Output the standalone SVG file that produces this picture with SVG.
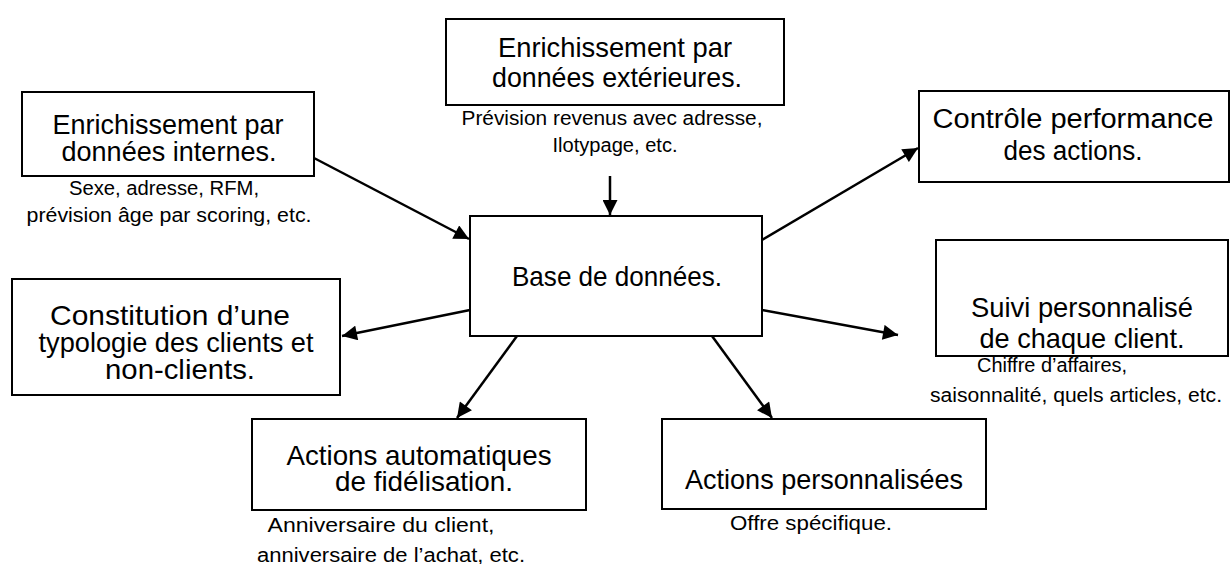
<svg xmlns="http://www.w3.org/2000/svg" width="1231" height="564" viewBox="0 0 1231 564">
<defs>
<style>
rect.box{fill:#fff;stroke:#000;stroke-width:2}
text{font-family:"Liberation Sans",Arial,sans-serif;fill:#000;text-anchor:middle}
.t{font-size:28px}
.k{font-size:27px}
.s{font-size:20px}
.c line{stroke:#000;stroke-width:2.5}
</style>
<marker id="ah" viewBox="0 0 10 10" refX="10" refY="5" markerWidth="6.4" markerHeight="6" markerUnits="strokeWidth" orient="auto">
<path d="M0,0 L10,5 L0,10 z" fill="#000"/>
</marker>
</defs>
<rect width="1231" height="564" fill="#fff"/>
<g class="c" id="connectors">
<line x1="314" y1="158" x2="469" y2="239" marker-end="url(#ah)"/>
<line x1="610" y1="176" x2="610" y2="215" marker-end="url(#ah)"/>
<line x1="762" y1="240" x2="918" y2="148" marker-end="url(#ah)"/>
<line x1="470" y1="310" x2="342" y2="336" marker-end="url(#ah)"/>
<line x1="762" y1="310" x2="898" y2="335" marker-end="url(#ah)"/>
<line x1="517" y1="336" x2="457" y2="418" marker-end="url(#ah)"/>
<line x1="712" y1="336" x2="772" y2="418" marker-end="url(#ah)"/>
</g>
<g id="n-internes">
<rect class="box" x="22" y="92" width="292" height="84"/>
<text class="t" x="168" y="134" textLength="231" lengthAdjust="spacingAndGlyphs">Enrichissement par</text>
<text class="t" x="169" y="161" textLength="215" lengthAdjust="spacingAndGlyphs">données internes.</text>
<text class="s" x="164" y="195" textLength="190" lengthAdjust="spacingAndGlyphs">Sexe, adresse, RFM,</text>
<text class="s" x="169" y="222" textLength="285" lengthAdjust="spacingAndGlyphs">prévision âge par scoring, etc.</text>
</g>
<g id="n-exterieures">
<rect class="box" x="446" y="19" width="338" height="86"/>
<text class="t" x="615" y="57" textLength="234" lengthAdjust="spacingAndGlyphs">Enrichissement par</text>
<text class="t" x="617" y="87" textLength="250" lengthAdjust="spacingAndGlyphs">données extérieures.</text>
<text class="s" x="612" y="125" textLength="301" lengthAdjust="spacingAndGlyphs">Prévision revenus avec adresse,</text>
<text class="s" x="615" y="152" textLength="125" lengthAdjust="spacingAndGlyphs">Ilotypage, etc.</text>
</g>
<g id="n-base">
<rect class="box" x="470" y="216" width="292" height="120"/>
<text class="t" x="617" y="286" textLength="210" lengthAdjust="spacingAndGlyphs">Base de données.</text>
</g>
<g id="n-controle">
<rect class="box" x="919" y="91" width="310" height="91"/>
<text class="k" x="1073" y="128" textLength="281" lengthAdjust="spacingAndGlyphs">Contrôle performance</text>
<text class="k" x="1073" y="160" textLength="139" lengthAdjust="spacingAndGlyphs">des actions.</text>
</g>
<g id="n-typologie">
<rect class="box" x="12" y="279" width="328" height="116"/>
<text class="t" x="170" y="325" textLength="240" lengthAdjust="spacingAndGlyphs">Constitution d’une</text>
<text class="t" x="176" y="352" textLength="275" lengthAdjust="spacingAndGlyphs">typologie des clients et</text>
<text class="t" x="180" y="379" textLength="150" lengthAdjust="spacingAndGlyphs">non-clients.</text>
</g>
<g id="n-suivi">
<rect class="box" x="936" y="240" width="292" height="116"/>
<text class="t" x="1082" y="317" textLength="222" lengthAdjust="spacingAndGlyphs">Suivi personnalisé</text>
<text class="t" x="1082" y="348" textLength="205" lengthAdjust="spacingAndGlyphs">de chaque client.</text>
<text class="s" x="1052" y="372" textLength="150" lengthAdjust="spacingAndGlyphs">Chiffre d’affaires,</text>
<text class="s" x="1076" y="402" textLength="292" lengthAdjust="spacingAndGlyphs">saisonnalité, quels articles, etc.</text>
</g>
<g id="n-auto">
<rect class="box" x="252" y="419" width="334" height="91"/>
<text class="t" x="419" y="465" textLength="265" lengthAdjust="spacingAndGlyphs">Actions automatiques</text>
<text class="t" x="424" y="491" textLength="178" lengthAdjust="spacingAndGlyphs">de fidélisation.</text>
<text class="s" x="381" y="532" textLength="227" lengthAdjust="spacingAndGlyphs">Anniversaire du client,</text>
<text class="s" x="391" y="562" textLength="268" lengthAdjust="spacingAndGlyphs">anniversaire de l’achat, etc.</text>
</g>
<g id="n-perso">
<rect class="box" x="662" y="419" width="324" height="90"/>
<text class="t" x="824" y="489" textLength="278" lengthAdjust="spacingAndGlyphs">Actions personnalisées</text>
<text class="s" x="811" y="530" textLength="162" lengthAdjust="spacingAndGlyphs">Offre spécifique.</text>
</g>
</svg>
